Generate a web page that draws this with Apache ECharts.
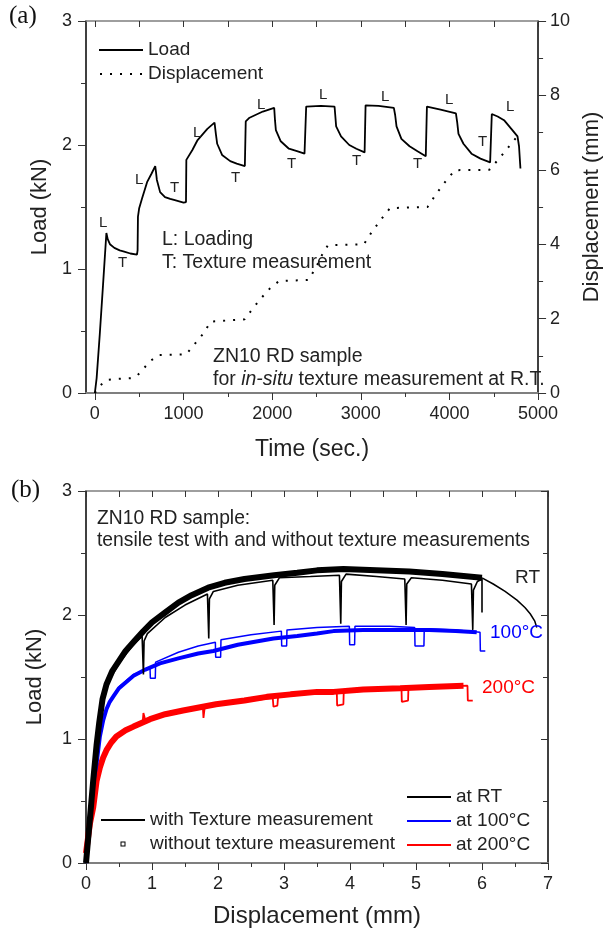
<!DOCTYPE html>
<html><head><meta charset="utf-8">
<script src="https://cdn.jsdelivr.net/npm/echarts@6/dist/echarts.min.js"></script>
<style>html,body{margin:0;padding:0;background:#fff}#c{width:611px;height:931px}</style>
</head><body><div id="c"></div>
<script>
// ===== Panel (a): load & displacement vs time =====
const timeMajorTicks = [0, 1000, 2000, 3000, 4000, 5000];
const timeMinorTicks = [500, 1500, 2500, 3500, 4500];
const timeAllTicks = [0, 500, 1000, 1500, 2000, 2500, 3000, 3500, 4000, 4500, 5000];
// [time (s), load (kN)]
const loadVsTime = [
  [0,0],[20,0.12],[55,0.47],[92,0.87],[130,1.29],[145,1.24],[170,1.2],[220,1.17],[280,1.15],[331,1.14],[400,1.125],[475,1.115],
  [482,1.15],[486,1.42],[500,1.49],[533,1.57],[589,1.70],[640,1.77],[681,1.83],
  [690,1.78],[699,1.72],[736,1.62],[791,1.58],[850,1.565],[902,1.555],[1001,1.535],
  [1028,1.54],[1032,1.88],[1100,1.96],[1159,2.04],[1269,2.13],[1350,2.18],
  [1365,2.09],[1380,2.01],[1435,1.92],[1527,1.87],[1600,1.85],[1692,1.83],
  [1698,1.84],[1702,2.19],[1745,2.22],[1895,2.27],[2023,2.30],
  [2032,2.2],[2042,2.12],[2097,2.03],[2189,1.97],[2280,1.95],[2365,1.93],
  [2380,1.94],[2384,2.31],[2550,2.315],[2704,2.31],
  [2712,2.24],[2722,2.15],[2777,2.07],[2870,2.0],[2950,1.97],[3043,1.94],
  [3050,1.95],[3054,2.32],[3200,2.315],[3373,2.30],
  [3388,2.24],[3403,2.15],[3458,2.05],[3550,1.99],[3640,1.95],[3733,1.91],
  [3742,1.92],[3746,2.31],[3900,2.285],[4073,2.255],
  [4088,2.18],[4102,2.09],[4158,2.01],[4249,1.93],[4350,1.89],[4459,1.86],
  [4474,1.87],[4478,2.25],[4544,2.23],[4616,2.20],[4710,2.12],[4768,2.07],[4785,1.99],[4801,1.81]
];
// [time (s), displacement (mm)]
const dispVsTime = [
  [0,0],[50,0.18],[130,0.35],[250,0.38],[420,0.40],[470,0.45],[530,0.6],[620,0.85],[718,1.02],[1030,1.04],
  [1120,1.3],[1232,1.62],[1306,1.92],[1690,1.98],[1760,2.2],[1858,2.5],[1970,2.8],[2078,3.01],[2410,3.04],
  [2500,3.4],[2560,3.7],[2628,3.97],[3035,4.0],[3130,4.35],[3240,4.7],[3330,4.97],[3753,5.0],[3850,5.35],
  [3960,5.7],[4062,5.99],[4450,6.0],[4560,6.3],[4680,6.65],[4800,7.0]
];

// ===== Panel (b): load vs displacement =====
// RT without texture measurement (band) [mm, kN]
const rtWithout = [
  [0,0],[0.05,0.3],[0.11,0.67],[0.16,0.95],[0.2,1.13],[0.25,1.32],[0.31,1.44],[0.4,1.55],[0.5,1.63],[0.6,1.71],
  [0.75,1.8],[0.87,1.87],[1.0,1.94],[1.2,2.02],[1.4,2.1],[1.6,2.16],[1.85,2.22],[2.1,2.26],[2.4,2.29],[2.85,2.32],
  [3.2,2.34],[3.5,2.36],[3.9,2.37],[4.4,2.36],[4.9,2.35],[5.4,2.33],[6.0,2.30]
];
// RT tail until fracture
const rtTail = [[6.0,2.30],[6.17,2.25],[6.35,2.19],[6.53,2.12],[6.65,2.06],[6.73,2.01],[6.8,1.95],[6.83,1.9]];
// RT with texture measurement
const rtWith = [
  [0,0],[0.11,0.67],[0.2,1.12],[0.31,1.43],[0.5,1.61],[0.7,1.75],[0.85,1.83],[0.87,1.52],[0.88,1.79],[0.93,1.85],
  [1.2,1.98],[1.5,2.08],[1.84,2.17],[1.86,1.81],[1.87,2.13],[1.93,2.19],[2.3,2.24],[2.83,2.28],[2.85,1.92],[2.86,2.24],
  [2.93,2.30],[3.4,2.31],[3.84,2.32],[3.86,1.93],[3.87,2.27],[3.94,2.33],[4.4,2.31],[4.83,2.29],[4.85,1.92],[4.86,2.25],
  [4.93,2.30],[5.4,2.28],[5.84,2.25],[5.86,1.88],[5.87,2.2],[5.93,2.27],[6.0,2.29],[6.0,2.02]
];
// 100 °C without texture measurement
const t100Without = [
  [0,0],[0.05,0.3],[0.11,0.65],[0.16,0.8],[0.21,1.02],[0.26,1.15],[0.31,1.24],[0.36,1.3],[0.41,1.34],[0.5,1.41],
  [0.72,1.51],[0.9,1.56],[1.12,1.61],[1.4,1.65],[1.7,1.69],[1.93,1.71],[2.3,1.76],[2.84,1.81],[3.2,1.83],[3.5,1.85],
  [3.75,1.87],[4.2,1.88],[4.76,1.88],[5.2,1.88],[5.6,1.87],[5.92,1.86]
];
// 100 °C with texture measurement
const t100With = [
  [0,0],[0.11,0.65],[0.21,1.02],[0.31,1.24],[0.5,1.42],[0.72,1.52],[0.97,1.57],[0.975,1.49],[1.05,1.49],[1.055,1.62],
  [1.4,1.70],[1.7,1.75],[1.96,1.78],[1.965,1.66],[2.04,1.66],[2.045,1.80],[2.5,1.84],[2.96,1.87],[2.965,1.75],[3.04,1.75],
  [3.045,1.88],[3.5,1.90],[3.99,1.91],[3.995,1.76],[4.07,1.76],[4.075,1.91],[4.6,1.91],[4.98,1.90],[4.985,1.75],[5.12,1.75],
  [5.125,1.89],[5.6,1.88],[5.97,1.86],[5.975,1.71],[6.05,1.71]
];
// 200 °C without texture measurement
const t200Without = [
  [0,0.08],[0.06,0.32],[0.11,0.45],[0.16,0.66],[0.21,0.77],[0.26,0.85],[0.31,0.91],[0.38,0.97],[0.46,1.02],[0.6,1.07],
  [0.72,1.10],[0.97,1.16],[1.2,1.2],[1.47,1.23],[1.97,1.28],[2.4,1.31],[2.74,1.34],[3.1,1.36],[3.5,1.38],[3.75,1.38],
  [4.2,1.40],[4.76,1.41],[5.2,1.42],[5.72,1.43]
];
// 200 °C with texture measurement
const t200With = [
  [0,0.08],[0.11,0.45],[0.21,0.77],[0.31,0.91],[0.46,1.02],[0.72,1.10],[0.86,1.14],[0.87,1.21],[0.9,1.15],[1.2,1.2],
  [1.47,1.23],[1.77,1.26],[1.78,1.17],[1.8,1.26],[2.3,1.30],[2.83,1.33],[2.84,1.26],[2.9,1.27],[2.91,1.34],[3.5,1.37],
  [3.8,1.38],[3.805,1.27],[3.9,1.28],[3.905,1.38],[4.3,1.39],[4.78,1.41],[4.785,1.30],[4.88,1.31],[4.885,1.41],[5.3,1.42],
  [5.78,1.43],[5.785,1.31],[5.86,1.31]
];

const FONT = '"Liberation Sans", Arial, sans-serif';
const SERIF = '"Liberation Serif", "Times New Roman", serif';
const GRAY = '#7f7f7f';
const lbl = {fontFamily: FONT, fontSize: 18, color: '#222', formatter: v => String(v)};
const nameStyle = {fontFamily: FONT, fontSize: 22, color: '#222'};
const legText = {fontFamily: FONT, fontSize: 19, color: '#222', lineHeight: 20};

// legend icons drawn in a 44x14 box
const ICON_LINE = 'path://M0,0M44,14M0,6h44v2h-44z';
const ICON_DOTS = 'path://M0,0M44,14M1,6h2v2h-2zM11,6h2v2h-2zM21,6h2v2h-2zM31,6h2v2h-2zM41,6h2v2h-2z';
const ICON_SQ = 'path://M0,0M44,14M19.5,4.5h5v5h-5zM20.5,5.5v3h3v-3z';

const chart = echarts.init(document.getElementById('c'), null, {renderer: 'canvas'});

function txt(text, x, y, size, color, family) {
  return {type: 'text', x: x, y: y, z: 100,
    style: {text: text, fontFamily: family || FONT, fontSize: size, fill: color || '#222', verticalAlign: 'middle'}};
}

const option = {
  animation: false,
  backgroundColor: '#fff',
  grid: [
    {left: 86, top: 21, width: 462, height: 372},
    {left: 86, top: 491, width: 462, height: 372}
  ],
  xAxis: [
    {gridIndex: 0, type: 'value', min: -100, max: 5000, position: 'bottom',
     name: 'Time (sec.)', nameLocation: 'middle', nameGap: 45,
     nameTextStyle: {fontFamily: FONT, fontSize: 23, color: '#222'},
     axisLine: {onZero: false, lineStyle: {color: GRAY, width: 2}},
     axisTick: {customValues: timeMajorTicks, length: 7, lineStyle: {color: '#333'}},
     axisLabel: Object.assign({customValues: timeMajorTicks, margin: 12}, lbl),
     splitLine: {show: false}},
    {gridIndex: 0, type: 'value', min: -100, max: 5000, position: 'bottom',
     axisLine: {show: false, onZero: false},
     axisTick: {customValues: timeMinorTicks, length: 4, lineStyle: {color: '#333'}},
     axisLabel: {show: false}, splitLine: {show: false}},
    {gridIndex: 0, type: 'value', min: -100, max: 5000, position: 'top',
     axisLine: {onZero: false, lineStyle: {color: GRAY, width: 1.5}},
     axisTick: {customValues: timeAllTicks, inside: true, length: 6, lineStyle: {color: '#333'}},
     axisLabel: {show: false}, splitLine: {show: false}},
    {gridIndex: 1, type: 'value', min: 0, max: 7, interval: 1, position: 'bottom',
     name: 'Displacement (mm)', nameLocation: 'middle', nameGap: 41,
     nameTextStyle: {fontFamily: FONT, fontSize: 24, color: '#222'},
     axisLine: {onZero: false, lineStyle: {color: GRAY, width: 2}},
     axisTick: {length: 7, lineStyle: {color: '#333'}},
     minorTick: {show: true, splitNumber: 2, length: 4, lineStyle: {color: '#333'}},
     axisLabel: Object.assign({margin: 12}, lbl), splitLine: {show: false}},
    {gridIndex: 1, type: 'value', min: 0, max: 7, interval: 1, position: 'top',
     axisLine: {onZero: false, lineStyle: {color: GRAY, width: 1.5}},
     axisTick: {inside: true, length: 6, lineStyle: {color: '#333'}},
     minorTick: {show: true, splitNumber: 2, length: 6, lineStyle: {color: '#333'}},
     axisLabel: {show: false}, splitLine: {show: false}}
  ],
  yAxis: [
    {gridIndex: 0, type: 'value', min: 0, max: 3, interval: 1, position: 'left',
     name: 'Load (kN)', nameLocation: 'middle', nameGap: 30, nameRotate: 90, nameTextStyle: nameStyle,
     axisLine: {show: true, onZero: false, lineStyle: {color: '#000', width: 1.5}},
     axisTick: {show: true, length: 8, lineStyle: {color: '#333'}},
     minorTick: {show: true, splitNumber: 2, length: 5, lineStyle: {color: '#333'}},
     axisLabel: Object.assign({margin: 14}, lbl), splitLine: {show: false}},
    {gridIndex: 0, type: 'value', min: 0, max: 10, interval: 2, position: 'right',
     name: 'Displacement (mm)', nameLocation: 'middle', nameGap: 31, nameRotate: 90, nameTextStyle: nameStyle,
     axisLine: {show: true, onZero: false, lineStyle: {color: '#000', width: 1.5}},
     axisTick: {show: true, length: 8, lineStyle: {color: '#333'}},
     minorTick: {show: true, splitNumber: 2, length: 5, lineStyle: {color: '#333'}},
     axisLabel: Object.assign({margin: 12}, lbl), splitLine: {show: false}},
    {gridIndex: 1, type: 'value', min: 0, max: 3, interval: 1, position: 'left',
     name: 'Load (kN)', nameLocation: 'middle', nameGap: 40, nameRotate: 90, nameTextStyle: nameStyle,
     axisLine: {show: true, onZero: false, lineStyle: {color: '#000', width: 1.5}},
     axisTick: {show: true, length: 8, lineStyle: {color: '#333'}},
     minorTick: {show: true, splitNumber: 2, length: 5, lineStyle: {color: '#333'}},
     axisLabel: Object.assign({margin: 14}, lbl), splitLine: {show: false}},
    {gridIndex: 1, type: 'value', min: 0, max: 3, interval: 1, position: 'right',
     axisLine: {show: true, onZero: false, lineStyle: {color: '#000', width: 1.5}},
     axisTick: {show: true, inside: true, length: 7, lineStyle: {color: '#333'}},
     minorTick: {show: true, splitNumber: 2, length: 5, lineStyle: {color: '#333'}},
     axisLabel: {show: false}, splitLine: {show: false}}
  ],
  legend: [
    {data: [{name: 'Load', icon: ICON_LINE}, {name: 'Displacement', icon: ICON_DOTS}],
     left: 94, top: 35, orient: 'vertical', itemWidth: 44, itemHeight: 14, itemGap: 4,
     textStyle: legText, selectedMode: false},
    {data: [{name: 'with Texture measurement', icon: ICON_LINE}, {name: 'without texture measurement', icon: ICON_SQ}],
     left: 96, top: 805, orient: 'vertical', itemWidth: 44, itemHeight: 14, itemGap: 4,
     textStyle: legText, selectedMode: false},
    {data: [{name: 'at RT', icon: ICON_LINE}, {name: 'at 100°C', icon: ICON_LINE}, {name: 'at 200°C', icon: ICON_LINE}],
     left: 402, top: 782, orient: 'vertical', itemWidth: 44, itemHeight: 14, itemGap: 4,
     textStyle: legText, selectedMode: false}
  ],
  series: [
    {name: 'Load', type: 'line', xAxisIndex: 0, yAxisIndex: 0, data: loadVsTime, symbol: 'none',
     color: '#000', lineStyle: {color: '#000', width: 1.8}},
    {name: 'Displacement', type: 'line', xAxisIndex: 0, yAxisIndex: 1, data: dispVsTime, symbol: 'none',
     color: '#000', lineStyle: {color: '#000', width: 2, type: [2, 8]}},
    {name: 'with Texture measurement', type: 'line', xAxisIndex: 3, yAxisIndex: 2, data: [], symbol: 'none',
     color: '#000', lineStyle: {color: '#000', width: 2}},
    {name: 'without texture measurement', type: 'line', xAxisIndex: 3, yAxisIndex: 2, data: [], symbol: 'none',
     color: '#000', lineStyle: {color: '#000', width: 1}},
    {name: 'at 200°C', type: 'line', xAxisIndex: 3, yAxisIndex: 2, data: t200Without, symbol: 'none',
     color: '#ff0000', lineStyle: {color: '#ff0000', width: 6}},
    {name: 'at 200°C', type: 'line', xAxisIndex: 3, yAxisIndex: 2, data: t200With, symbol: 'none',
     color: '#ff0000', lineStyle: {color: '#ff0000', width: 1.8}},
    {name: 'at 100°C', type: 'line', xAxisIndex: 3, yAxisIndex: 2, data: t100Without, symbol: 'none',
     color: '#0000ff', lineStyle: {color: '#0000ff', width: 4}},
    {name: 'at 100°C', type: 'line', xAxisIndex: 3, yAxisIndex: 2, data: t100With, symbol: 'none',
     color: '#0000ff', lineStyle: {color: '#0000ff', width: 1.5}},
    {name: 'at RT', type: 'line', xAxisIndex: 3, yAxisIndex: 2, data: rtWithout, symbol: 'none',
     color: '#000', lineStyle: {color: '#000', width: 6}},
    {name: 'at RT', type: 'line', xAxisIndex: 3, yAxisIndex: 2, data: rtTail, symbol: 'none',
     color: '#000', lineStyle: {color: '#000', width: 1.5}},
    {name: 'at RT', type: 'line', xAxisIndex: 3, yAxisIndex: 2, data: rtWith, symbol: 'none',
     color: '#000', lineStyle: {color: '#000', width: 1.6}}
  ],
  graphic: [
    txt('(a)', 9, 16, 25, '#111', SERIF),
    txt('(b)', 11, 490, 25, '#111', SERIF),
    txt('L: Loading', 162, 240, 19.5),
    txt('T: Texture measurement', 162, 263, 19.5),
    txt('ZN10 RD sample', 213, 357, 19.5),
    {type: 'text', x: 213, y: 380, z: 100, style: {
      text: 'for {i|in-situ} texture measurement at R.T.', fontFamily: FONT, fontSize: 19.5, fill: '#222', verticalAlign: 'middle',
      rich: {i: {fontStyle: 'italic', fontFamily: FONT, fontSize: 19.5, fill: '#222'}}}},
    txt('L', 99, 223, 15), txt('T', 118, 263, 15),
    txt('L', 135, 180, 15), txt('T', 170, 188, 15),
    txt('L', 193, 133, 15), txt('T', 231, 178, 15),
    txt('L', 257, 105, 15), txt('T', 287, 164, 15),
    txt('L', 319, 95, 15), txt('T', 352, 161, 15),
    txt('L', 381, 97, 15), txt('T', 413, 164, 15),
    txt('L', 445, 100, 15), txt('T', 478, 142, 15),
    txt('L', 506, 107, 15),
    txt('ZN10 RD sample:', 97, 519, 19.3),
    txt('tensile test with and without texture measurements', 97, 541, 19.3),
    txt('RT', 515, 578, 19, '#222'),
    txt('100°C', 490, 633, 19, '#0000ff'),
    txt('200°C', 482, 688, 19, '#ff0000')
  ]
};
chart.setOption(option);
</script>
</body></html>
